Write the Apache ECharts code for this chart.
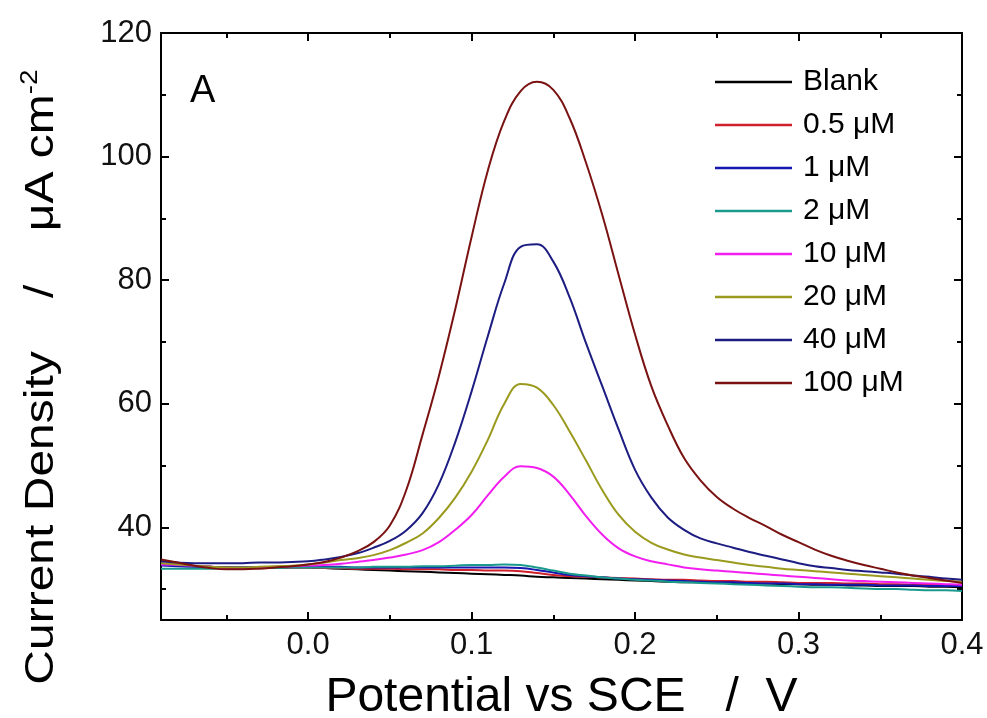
<!DOCTYPE html>
<html><head><meta charset="utf-8">
<script src="https://cdn.jsdelivr.net/npm/echarts@6/dist/echarts.min.js"></script>
<style>html,body{margin:0;padding:0;background:#fff}#c{width:987px;height:718px}</style>
</head><body><div id="c"></div>
<script>
const potential = [-0.09,-0.08,-0.07,-0.06,-0.05,-0.04,-0.03,-0.02,-0.01,0.00,
  0.01,0.02,0.03,0.04,0.05,0.06,0.07,0.08,0.09,0.10,
  0.11,0.12,0.13,0.14,0.15,0.16,0.17,0.18,0.19,0.20,
  0.21,0.22,0.23,0.24,0.25,0.26,0.27,0.28,0.29,0.30,
  0.31,0.32,0.33,0.34,0.35,0.36,0.37,0.38,0.39,0.40];

const blank = [34.0,33.9,33.7,33.6,33.5,33.5,33.5,33.5,33.5,33.5,
  33.4,33.3,33.2,33.1,33.0,32.9,32.8,32.7,32.6,32.5,
  32.4,32.3,32.2,32.0,31.9,31.8,31.7,31.6,31.5,31.4,
  31.3,31.2,31.1,31.1,31.0,31.0,30.9,30.9,30.8,30.8,
  30.7,30.7,30.6,30.6,30.5,30.5,30.5,30.4,30.4,30.3];
const c05 = [34.2,34.0,33.8,33.6,33.5,33.4,33.4,33.4,33.5,33.5,
  33.4,33.4,33.3,33.3,33.3,33.2,33.2,33.2,33.1,33.1,
  33.0,33.0,32.9,32.6,32.3,32.1,32.0,31.9,31.8,31.7,
  31.6,31.5,31.5,31.4,31.3,31.3,31.2,31.2,31.1,31.0,
  31.0,31.0,30.9,30.9,30.8,30.8,30.7,30.7,30.6,30.6];
const c1 = [33.8,33.7,33.6,33.6,33.5,33.5,33.5,33.5,33.6,33.6,
  33.6,33.6,33.5,33.5,33.5,33.5,33.5,33.5,33.5,33.5,
  33.5,33.5,33.4,33.1,32.7,32.3,32.1,31.9,31.7,31.6,
  31.5,31.4,31.3,31.2,31.1,31.1,31.0,30.9,30.9,30.8,
  30.8,30.7,30.7,30.7,30.6,30.6,30.6,30.5,30.5,30.5];
const c2 = [33.3,33.3,33.3,33.3,33.4,33.4,33.4,33.4,33.5,33.5,
  33.5,33.5,33.5,33.6,33.6,33.6,33.7,33.7,33.8,33.9,
  33.9,34.0,33.9,33.5,33.0,32.5,32.2,31.9,31.7,31.5,
  31.4,31.2,31.1,31.0,30.9,30.8,30.7,30.6,30.5,30.4,
  30.3,30.3,30.2,30.1,30.0,30.0,29.9,29.8,29.8,29.7];
const c10 = [34.0,33.9,33.8,33.6,33.4,33.4,33.5,33.6,33.7,33.8,
  33.9,34.1,34.4,34.7,35.1,35.6,36.3,37.6,39.6,42.0,
  45.2,48.2,49.9,49.6,48.2,45.3,41.8,38.8,36.6,35.3,
  34.5,34.0,33.5,33.2,33.0,32.8,32.6,32.4,32.2,32.0,
  31.8,31.6,31.4,31.3,31.2,31.1,31.0,30.9,30.8,30.7];
const c20 = [34.2,34.0,33.8,33.6,33.5,33.5,33.6,33.7,33.8,34.0,
  34.3,34.7,35.0,35.5,36.3,37.5,39.0,41.5,44.8,49.0,
  54.2,60.0,63.2,62.6,59.8,55.5,50.8,46.0,42.0,39.3,
  37.5,36.4,35.6,35.1,34.7,34.3,33.9,33.6,33.3,33.1,
  32.9,32.7,32.5,32.3,32.1,31.9,31.7,31.5,31.3,31.2];
const c40 = [34.5,34.3,34.2,34.2,34.2,34.2,34.3,34.3,34.4,34.5,
  34.8,35.2,35.8,36.7,37.8,39.5,42.3,47.0,53.8,62.0,
  71.0,79.5,85.4,85.8,83.0,77.2,69.8,62.8,55.8,49.3,
  44.8,41.6,39.6,38.2,37.4,36.7,36.0,35.4,34.8,34.2,
  33.7,33.4,33.1,32.9,32.7,32.5,32.2,32.0,31.7,31.5];
const c100 = [34.8,34.3,33.8,33.4,33.2,33.2,33.3,33.5,33.7,34.0,
  34.4,35.1,36.1,37.6,40.3,46.0,55.0,64.5,75.3,87.0,
  97.8,105.8,110.6,112.1,110.8,106.2,99.0,90.5,80.8,71.2,
  62.8,56.5,51.2,47.6,44.9,43.0,41.5,40.2,38.8,37.6,
  36.4,35.4,34.6,33.9,33.3,32.7,32.2,31.8,31.4,31.0];

const seriesNames = ['Blank','0.5 μM','1 μM','2 μM','10 μM','20 μM','40 μM','100 μM'];
const seriesValues = [blank, c05, c1, c2, c10, c20, c40, c100];
const seriesColors = ['#000000','#d0202c','#1616b0','#1a9a8c','#f21ef0','#9a9a1e','#1c1c82','#7a1212'];
const xTickLabels = ['0.0','0.1','0.2','0.3','0.4'];
const yTickLabels = [40,60,80,100,120];
const xTitle = 'Potential vs SCE   /  V';
const yTitle = 'Current Density    /    μA cm';
const panelLabel = 'A';

const FONT = '"Liberation Sans", Arial, sans-serif';
const chart = echarts.init(document.getElementById('c'), null, {renderer: 'canvas'});

const xFmt = v => { const s = (Math.abs(v) < 1e-9 ? 0 : v).toFixed(1); return (xTickLabels.includes(s) && Math.abs(v - parseFloat(s)) < 1e-6) ? s : ''; };
const yFmt = v => yTickLabels.includes(Math.round(v)) && Math.abs(v - Math.round(v)) < 1e-6 ? String(Math.round(v)) : '';

const axisCommon = {
  axisLine: {show: true, onZero: false, lineStyle: {color: '#000', width: 2}},
  axisTick: {show: true, inside: true, length: 8, lineStyle: {color: '#000', width: 2}},
  minorTick: {show: true, splitNumber: 2, length: 5, lineStyle: {color: '#000', width: 2}},
  splitLine: {show: false},
  minorSplitLine: {show: false}
};

const option = {
  animation: false,
  backgroundColor: '#fff',
  grid: {left: 161, right: 25, top: 33, bottom: 98, containLabel: false, outerBoundsMode: 'none'},
  xAxis: [
    Object.assign({
      type: 'value', position: 'bottom', min: -0.09, max: 0.4,
      name: xTitle, nameLocation: 'middle', nameGap: 54,
      nameTextStyle: {fontSize: 48, fontFamily: FONT, color: '#000'},
      axisLabel: {show: true, margin: 10, fontSize: 31, fontFamily: FONT, color: '#111', formatter: xFmt, showMinLabel: true, showMaxLabel: true}
    }, axisCommon),
    Object.assign({
      type: 'value', position: 'top', min: -0.09, max: 0.4,
      axisLabel: {show: false}
    }, axisCommon)
  ],
  yAxis: [
    Object.assign({
      type: 'value', position: 'left', min: 25, max: 120,
      axisLabel: {show: true, margin: 9, fontSize: 31, fontFamily: FONT, color: '#111', formatter: yFmt}
    }, axisCommon),
    Object.assign({
      type: 'value', position: 'right', min: 25, max: 120,
      axisLabel: {show: false}
    }, axisCommon)
  ],
  legend: {
    orient: 'vertical', left: 715, top: 67, padding: 0,
    itemWidth: 77, itemHeight: 2.5, itemGap: 13, icon: 'rect',
    textStyle: {fontSize: 30, lineHeight: 30, fontFamily: FONT, color: '#000', padding: [0, 0, 0, 6]},
    data: seriesNames
  },
  graphic: [
    {type: 'text', x: 190, y: 92,
      style: {text: panelLabel, fontSize: 38, fontFamily: FONT, fill: '#000', align: 'left', verticalAlign: 'middle'}},
    {type: 'text', x: 42, y: 377, rotation: Math.PI / 2, scaleY: 0.86,
      style: {text: yTitle + '{sup|-2}', fontSize: 48, fontFamily: FONT, fill: '#000', align: 'center', verticalAlign: 'middle',
        rich: {sup: {fontSize: 28, fontFamily: FONT, fill: '#000', padding: [0, 0, 28, 0]}}}}
  ],
  series: seriesNames.map((n, i) => ({
    name: n, type: 'line', xAxisIndex: 0, yAxisIndex: 0,
    data: potential.map((x, j) => [x, seriesValues[i][j]]),
    showSymbol: false, symbol: 'none', smooth: 0.4,
    lineStyle: {color: seriesColors[i], width: 2},
    itemStyle: {color: seriesColors[i]},
    z: 2 + i
  }))
};
chart.setOption(option);
</script></body></html>
